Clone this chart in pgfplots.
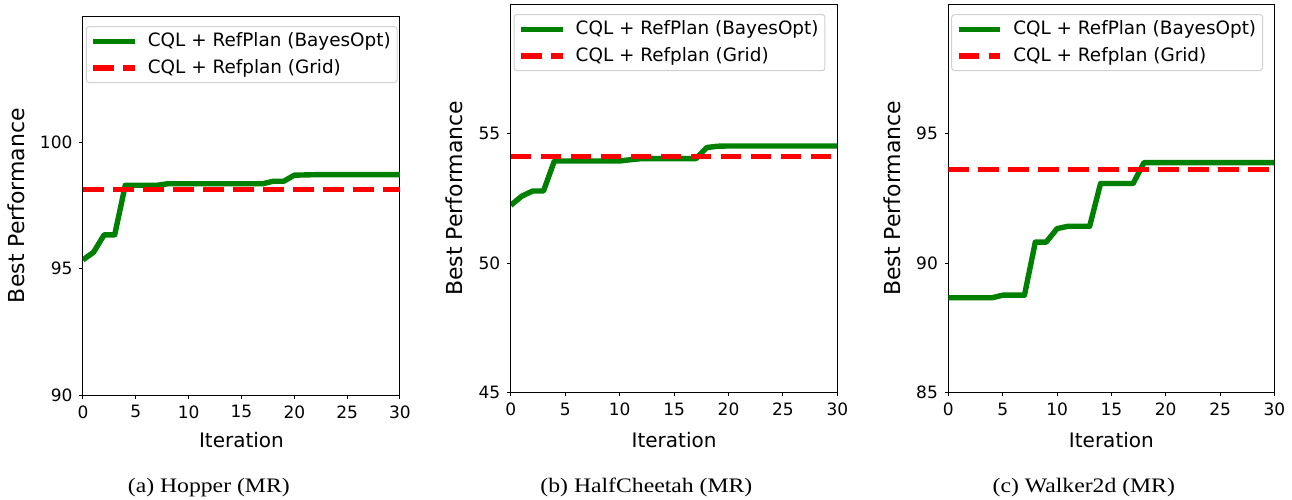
\documentclass[border=0pt]{standalone}
\usepackage{fontspec}
\setmainfont{DejaVu Sans}
\newfontfamily\capfont[FakeStretch=1.15]{Liberation Serif}
\usepackage{pgfplots}
\pgfplotsset{compat=1.18}
\definecolor{mplgreen}{HTML}{008000}
\definecolor{legedge}{HTML}{D0D0D0}

\pgfplotsset{
  refstyle/.style={
    scale only axis,
    xmin=0, xmax=30,
    xtick={0,5,...,30},
    tick align=outside,
    tick pos=left,
    major tick length=1.75pt,
    every tick/.style={black, line width=0.5pt},
    axis line style={black, line width=0.5pt},
    /pgf/number format/assume math mode=true,
    ticklabel style={font=\fontsize{8.5}{10}\selectfont},
    xlabel={Iteration},
    ylabel={Best Performance},
    xlabel style={font=\fontsize{10}{12}\selectfont, anchor=center},
    ylabel style={font=\fontsize{11}{13}\selectfont, anchor=center, rotate=0},
    legend cell align=left,
    legend image code/.code={\draw[##1] (0pt,0pt) -- (20.8pt,0pt);},
    legend style={at={(axis description cs:0,1)}, anchor=north west,
      xshift=1.4pt, yshift=-5pt, draw=legedge, line width=0.5pt,
      rounded corners=1.5pt, fill=white,
      font=\fontsize{9.2}{10.5}\selectfont,
      inner xsep=2pt, inner ysep=2pt, row sep=2.3pt,
      nodes={inner sep=1.2pt},
      /tikz/every odd column/.append style={column sep=4pt}},
  },
  bayes/.style={mplgreen, line width=2.7pt, line join=round},
  grid/.style={red, line width=2.8pt, dash pattern=on 10.3pt off 4.7pt},
}

\begin{document}
\begin{tikzpicture}
\path[use as bounding box] (0,0) rectangle (646pt,249.5pt);

% (a) Hopper
\begin{axis}[refstyle,
  at={(41.5pt,52pt)}, anchor=south west,
  width=158.5pt, height=189.5pt,
  ymin=90, ymax=105, ytick={90,95,100},
  xlabel style={at={(axis description cs:0.5,-0.119)}},
  ylabel style={at={(axis description cs:-0.209,0.5)}},
]
\addplot[bayes] coordinates {
(0,95.35) (1,95.65) (2,96.34) (3,96.34) (4,98.30) (5,98.30) (6,98.30) (7,98.30)
(8,98.36) (9,98.36) (10,98.36) (11,98.36) (12,98.36) (13,98.36) (14,98.36) (15,98.36)
(16,98.36) (17,98.36) (18,98.46) (19,98.46) (20,98.70) (21,98.71) (22,98.72) (23,98.72)
(24,98.72) (25,98.72) (26,98.72) (27,98.72) (28,98.72) (29,98.72) (30,98.72)};
\addlegendentry{CQL + RefPlan (BayesOpt)}
\addplot[grid] coordinates {(0,98.13) (30,98.13)};
\addlegendentry{CQL + Refplan (Grid)}
\end{axis}

% (b) HalfCheetah
\begin{axis}[refstyle,
  at={(255.4pt,53.2pt)}, anchor=south west,
  width=163.3pt, height=194.3pt,
  ymin=45, ymax=60, ytick={45,50,55},
  xlabel style={at={(axis description cs:0.5,-0.122)}},
  ylabel style={at={(axis description cs:-0.173,0.5)}},
]
\addplot[bayes] coordinates {
(0,52.23) (1,52.58) (2,52.78) (3,52.78) (4,53.94) (5,53.94) (6,53.94) (7,53.94)
(8,53.94) (9,53.94) (10,53.94) (11,53.99) (12,54.03) (13,54.03) (14,54.03) (15,54.03)
(16,54.03) (17,54.03) (18,54.46) (19,54.51) (20,54.52) (21,54.52) (22,54.52) (23,54.52)
(24,54.52) (25,54.52) (26,54.52) (27,54.52) (28,54.52) (29,54.52) (30,54.52)};
\addlegendentry{CQL + RefPlan (BayesOpt)}
\addplot[grid] coordinates {(0,54.12) (30,54.12)};
\addlegendentry{CQL + Refplan (Grid)}
\end{axis}

% (c) Walker2d
\begin{axis}[refstyle,
  at={(474.2pt,53.2pt)}, anchor=south west,
  width=163pt, height=194.3pt,
  ymin=85, ymax=100, ytick={85,90,95},
  xlabel style={at={(axis description cs:0.5,-0.122)}},
  ylabel style={at={(axis description cs:-0.173,0.5)}},
]
\addplot[bayes] coordinates {
(0,88.66) (1,88.66) (2,88.66) (3,88.66) (4,88.66) (5,88.76) (6,88.76) (7,88.76)
(8,90.81) (9,90.81) (10,91.33) (11,91.42) (12,91.42) (13,91.42) (14,93.07) (15,93.07)
(16,93.07) (17,93.07) (18,93.88) (19,93.88) (20,93.88) (21,93.88) (22,93.88) (23,93.88)
(24,93.88) (25,93.88) (26,93.88) (27,93.88) (28,93.88) (29,93.88) (30,93.88)};
\addlegendentry{CQL + RefPlan (BayesOpt)}
\addplot[grid] coordinates {(0,93.61) (30,93.61)};
\addlegendentry{CQL + Refplan (Grid)}
\end{axis}

\node[anchor=base, font=\capfont\fontsize{10.3}{12}\selectfont] at (104.4pt,3.15pt) {(a) Hopper (MR)};
\node[anchor=base, font=\capfont\fontsize{10.3}{12}\selectfont] at (323.2pt,3.15pt) {(b) HalfCheetah (MR)};
\node[anchor=base, font=\capfont\fontsize{10.3}{12}\selectfont] at (541.9pt,3.15pt) {(c) Walker2d (MR)};
\end{tikzpicture}
\end{document}
